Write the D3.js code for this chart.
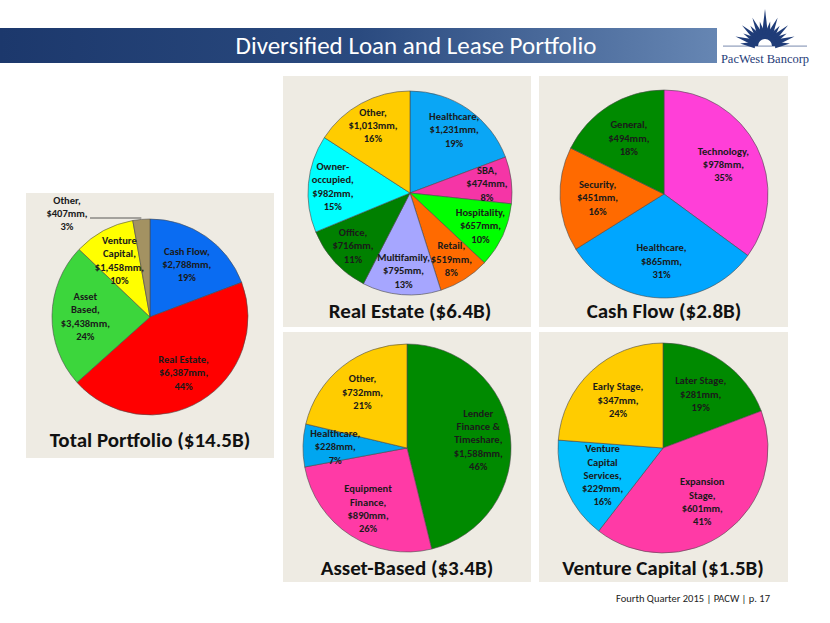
<!DOCTYPE html>
<html><head><meta charset="utf-8">
<script src="https://cdn.jsdelivr.net/npm/d3@7/dist/d3.min.js"></script>
<style>
html,body{margin:0;padding:0;background:#fff;}
svg{display:block;font-family:Carlito,Calibri,Lato,sans-serif;}
</style></head>
<body>
<svg id="chart" width="830" height="623"></svg>
<script>
// ---------- DATA ----------
const totalCats = ["Cash Flow", "Real Estate", "Asset\nBased", "Venture\nCapital", "Other"];
const totalVals = [2788, 6387, 3438, 1458, 407];
const totalPcts = [19, 44, 24, 10, 3];

const reCats = ["Healthcare", "SBA", "Hospitality", "Retail", "Multifamily", "Office", "Owner-\noccupied", "Other"];
const reVals = [1231, 474, 657, 519, 795, 716, 982, 1013];
const rePcts = [19, 8, 10, 8, 13, 11, 15, 16];

const cfCats = ["Technology", "Healthcare", "Security", "General"];
const cfVals = [978, 865, 451, 494];
const cfPcts = [35, 31, 16, 18];

const abCats = ["Lender\nFinance &\nTimeshare", "Equipment\nFinance", "Healthcare", "Other"];
const abVals = [1588, 890, 228, 732];
const abPcts = [46, 26, 7, 21];

const vcCats = ["Later Stage", "Expansion\nStage", "Venture\nCapital\nServices", "Early Stage"];
const vcVals = [281, 601, 229, 347];
const vcPcts = [19, 41, 16, 24];

const chartTitles = ["Total Portfolio ($14.5B)", "Real Estate ($6.4B)", "Cash Flow ($2.8B)", "Asset-Based ($3.4B)", "Venture Capital ($1.5B)"];
const pageTitle = "Diversified Loan and Lease Portfolio";
const footerText = "Fourth Quarter 2015 | PACW | p. 17";
const logoText = "PacWest Bancorp";

// ---------- STYLE / LAYOUT ----------
const svg = d3.select("#chart");
const defs = svg.append("defs");
const grad = defs.append("linearGradient").attr("id", "barGrad").attr("x1", "0").attr("x2", "1").attr("y1", "0").attr("y2", "0");
grad.append("stop").attr("offset", "0%").attr("stop-color", "#1c386c");
grad.append("stop").attr("offset", "50%").attr("stop-color", "#2a4a7f");
grad.append("stop").attr("offset", "100%").attr("stop-color", "#6686b3");

// header bar
svg.append("rect").attr("x", 0).attr("y", 28).attr("width", 717).attr("height", 35).attr("fill", "url(#barGrad)");
svg.append("text").attr("x", 416).attr("y", 54).attr("text-anchor", "middle")
  .attr("fill", "#fff").attr("font-size", 25).text(pageTitle);

// logo
const navy = "#1f3c78";
const logo = svg.append("g").attr("transform", "translate(765,46)");
const rayAngles = d3.range(-84, 85, 12);
rayAngles.forEach((a) => {
  const aa = Math.abs(a);
  const len = aa === 0 ? 37 : (aa % 24 === 0 ? 31 : 25);
  const rad = a * Math.PI / 180, base = 10, hw = 3.2;
  const bx = base * Math.sin(rad), by = -base * Math.cos(rad);
  const nx = Math.cos(rad), ny = Math.sin(rad);
  const p = [
    [bx - hw * nx, by - hw * ny],
    [len * Math.sin(rad), -len * Math.cos(rad)],
    [bx + hw * nx, by + hw * ny]
  ];
  logo.append("path").attr("d", d3.line()(p) + "Z").attr("fill", navy);
});
logo.append("path").attr("d", d3.arc()({innerRadius: 7, outerRadius: 12, startAngle: -Math.PI / 2, endAngle: Math.PI / 2})).attr("fill", navy);
logo.append("rect").attr("x", -42).attr("y", -0.5).attr("width", 84).attr("height", 1.2).attr("fill", navy).attr("opacity", 0.5);
svg.append("text").attr("x", 765).attr("y", 63).attr("text-anchor", "middle")
  .attr("font-family", "'Liberation Serif','Times New Roman',serif").attr("font-size", 12.5)
  .attr("fill", navy).text(logoText);

// footer
svg.append("text").attr("x", 770).attr("y", 602).attr("text-anchor", "end")
  .attr("font-size", 10.5).attr("fill", "#222").text(footerText);

const charts = [
  {cats: totalCats, vals: totalVals, pcts: totalPcts, title: chartTitles[0],
   colors: ["#0a6cf2", "#ff0000", "#3cd63c", "#ffff00", "#a39262"],
   panel: [26, 193, 248, 265], cx: 150, cy: 317, r: 98, labelR: 0.66, titleY: 447,
   outside: {4: {dx: -83, dy: -104}}},
  {cats: reCats, vals: reVals, pcts: rePcts, title: chartTitles[1],
   colors: ["#0aa6f5", "#f535a6", "#00ff00", "#ff6a00", "#a6a6ff", "#008000", "#00ffff", "#ffcc00"],
   panel: [283, 76, 248, 251], cx: 410, cy: 193, r: 102, labelR: 0.76, titleY: 318},
  {cats: cfCats, vals: cfVals, pcts: cfPcts, title: chartTitles[2],
   colors: ["#ff3fd8", "#00a6ff", "#ff6a00", "#008a00"],
   panel: [539, 76, 249, 251], cx: 664, cy: 194, r: 104, labelR: 0.64, titleY: 318},
  {cats: abCats, vals: abVals, pcts: abPcts, title: chartTitles[3],
   colors: ["#008a00", "#ff3aa6", "#00a6f0", "#ffcc00"],
   panel: [283, 332, 248, 250], cx: 407, cy: 448, r: 104, labelR: 0.69, titleY: 575},
  {cats: vcCats, vals: vcVals, pcts: vcPcts, title: chartTitles[4],
   colors: ["#008a00", "#ff3aa6", "#00bfff", "#ffcc00"],
   panel: [539, 332, 249, 250], cx: 663, cy: 448, r: 105, labelR: 0.63, titleY: 575}
];

const fmt = d3.format(",");
const lh = 13.3;

charts.forEach(c => {
  const [px, py, pw, ph] = c.panel;
  svg.append("rect").attr("x", px).attr("y", py).attr("width", pw).attr("height", ph).attr("fill", "#eeebe3");
  const g = svg.append("g").attr("transform", `translate(${c.cx},${c.cy})`);
  const pie = d3.pie().sort(null).value(d => d)(c.vals);
  const arc = d3.arc().innerRadius(0).outerRadius(c.r);
  const labelArc = d3.arc().innerRadius(c.r * c.labelR).outerRadius(c.r * c.labelR);
  g.selectAll("path.slice").data(pie).join("path").attr("class", "slice")
    .attr("d", arc).attr("fill", (d, i) => c.colors[i])
    .attr("stroke", "#4a4a4a").attr("stroke-width", 0.6);

  pie.forEach((d, i) => {
    let [lx, ly] = labelArc.centroid(d);
    const ov = c.outside && c.outside[i];
    if (ov) { lx = ov.dx; ly = ov.dy; }
    const nameLines = c.cats[i].split("\n");
    nameLines[nameLines.length - 1] += ",";
    const lines = nameLines.concat(["$" + fmt(c.vals[i]) + "mm,", c.pcts[i] + "%"]);
    const t = g.append("text").attr("text-anchor", "middle").attr("font-size", 10.5)
      .attr("font-weight", 600).attr("fill", "#1a1a1a");
    const y0 = ly - (lines.length - 1) * lh / 2 + 4;
    lines.forEach((s, k) => t.append("tspan").attr("x", lx).attr("y", y0 + k * lh).text(s));
    if (ov) {
      const a = (d.startAngle + d.endAngle) / 2;
      const ex = c.r * Math.sin(a), ey = -c.r * Math.cos(a);
      g.append("line").attr("x1", lx + 23).attr("y1", ly + 5).attr("x2", ex).attr("y2", ly + 5)
        .attr("stroke", "#333").attr("stroke-width", 0.8);
    }
  });

  svg.append("text").attr("x", c.cx).attr("y", c.titleY).attr("text-anchor", "middle")
    .attr("font-size", 21).attr("font-weight", "bold").attr("fill", "#111").text(c.title);
});
</script>
</body></html>
